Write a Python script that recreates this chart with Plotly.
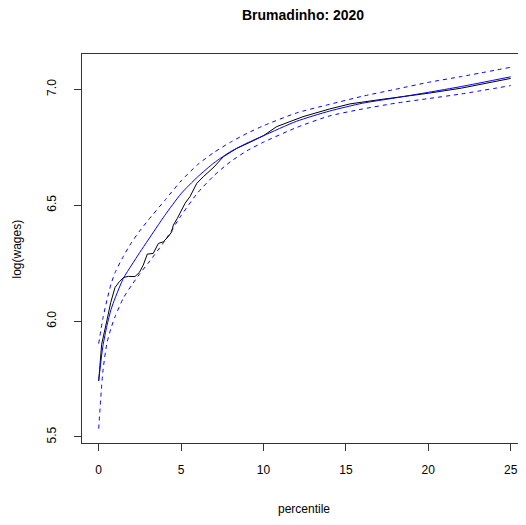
import plotly.graph_objects as go

# Empirical log wages (black)
emp_x = [0, 0.18, 0.49, 0.73, 0.99, 1.25, 1.5, 1.8, 2.2, 2.47, 2.7, 2.95, 3.31, 3.52, 3.62, 3.92,
         4.22, 4.43, 4.53, 4.77, 5.04, 5.24, 5.55, 5.95, 6.35, 7.0, 7.56, 8.37, 9.2, 10.0, 10.8,
         12.4, 14.0, 15.25, 17.0, 20.0, 22.0, 25.0]
emp_y = [5.742, 5.90, 6.00, 6.08, 6.145, 6.17, 6.188, 6.193, 6.192, 6.21, 6.241, 6.289, 6.292, 6.32,
         6.335, 6.342, 6.364, 6.385, 6.414, 6.443, 6.482, 6.508, 6.538, 6.594, 6.623, 6.665, 6.709,
         6.745, 6.772, 6.80, 6.839, 6.882, 6.915, 6.937, 6.955, 6.983, 7.005, 7.047]

# Fitted values and confidence band (blue)
fit_x = [0, 0.25, 0.5, 0.75, 1, 1.5, 2, 2.5, 3, 4, 5, 6, 7, 8, 9, 10, 12, 14, 16, 18, 20, 22, 25]
fit_y = [5.742, 5.89, 5.98, 6.05, 6.10, 6.185, 6.242, 6.297, 6.35, 6.455, 6.55, 6.622, 6.683,
         6.731, 6.768, 6.80, 6.862, 6.906, 6.94, 6.963, 6.987, 7.012, 7.054]
up_y = [5.903, 6.01, 6.09, 6.16, 6.21, 6.28, 6.34, 6.39, 6.435, 6.52, 6.605, 6.675, 6.728, 6.772,
        6.81, 6.843, 6.898, 6.935, 6.97, 7.0, 7.03, 7.055, 7.095]
lo_y = [5.536, 5.78, 5.905, 5.97, 6.02, 6.10, 6.155, 6.205, 6.25, 6.345, 6.455, 6.553, 6.628,
        6.688, 6.735, 6.772, 6.835, 6.885, 6.915, 6.94, 6.96, 6.98, 7.016]

x_ticks = [0, 5, 10, 15, 20, 25]
y_ticks = [5.5, 6.0, 6.5, 7.0]
y_tick_labels = ["5.5", "6.0", "6.5", "7.0"]

FONT = "Liberation Sans, Arial, Helvetica, sans-serif"

fig = go.Figure()
fig.add_trace(go.Scatter(x=emp_x, y=emp_y, mode="lines", line=dict(color="black", width=1)))
fig.add_trace(go.Scatter(x=fit_x, y=fit_y, mode="lines", line=dict(color="#0000ff", width=1,
                                                                 shape="spline", smoothing=0.6)))
fig.add_trace(go.Scatter(x=fit_x, y=up_y, mode="lines",
                         line=dict(color="#0000ff", width=1, dash="4px,4px",
                                   shape="spline", smoothing=0.6)))
fig.add_trace(go.Scatter(x=fit_x, y=lo_y, mode="lines",
                         line=dict(color="#0000ff", width=1, dash="4px,4px",
                                   shape="spline", smoothing=0.6)))

fig.update_layout(
    width=518, height=517,
    margin=dict(l=74, r=0, t=46, b=82),
    paper_bgcolor="white", plot_bgcolor="white",
    showlegend=False,
    font=dict(family=FONT, size=12, color="black"),
    xaxis=dict(range=[-1.013, 25.93], tickvals=x_ticks, ticks="outside", ticklen=7,
               tickcolor="#333333", showline=True, linecolor="#333333", linewidth=1,
               mirror=True, showgrid=False, zeroline=False, ticklabelstandoff=9,
               tickfont=dict(size=12)),
    yaxis=dict(range=[5.474, 7.1524], tickvals=y_ticks, ticktext=y_tick_labels,
               ticks="outside", ticklen=7, tickcolor="#333333", showline=True,
               linecolor="#333333", linewidth=1, mirror=False, showgrid=False,
               zeroline=False, tickangle=-90, ticklabelstandoff=13, tickfont=dict(size=12)),
    annotations=[
        dict(text="<b>Brumadinho: 2020</b>", xref="paper", yref="paper", x=0.497, y=1.1003,
             showarrow=False, font=dict(size=14), xanchor="center", yanchor="middle"),
        dict(text="percentile", xref="paper", yref="paper", x=0.501, y=-0.1697,
             showarrow=False, font=dict(size=12), xanchor="center", yanchor="middle"),
        dict(text="log(wages)", xref="paper", yref="paper", x=-0.1464, y=0.5, textangle=-90,
             showarrow=False, font=dict(size=12), xanchor="center", yanchor="middle"),
    ],
)

fig.write_html("out.html")
